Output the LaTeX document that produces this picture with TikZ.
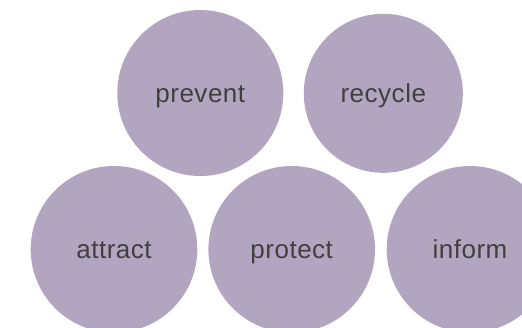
\documentclass[tikz,border=0pt]{standalone}
\usepackage{fontspec}
\setmainfont[LetterSpace=2]{Liberation Sans}
\definecolor{bubble}{HTML}{B1A5BF}
\definecolor{ink}{HTML}{404040}
\tikzset{
  bub/.style={circle, fill=bubble, draw=none, inner sep=0pt, text=ink,
    font=\fontsize{26}{30}\selectfont, text height=19pt, text depth=0pt},
  big/.style={bub, minimum size=166.6pt},
  small/.style={bub, minimum size=159pt}
}
\begin{document}
\begin{tikzpicture}[x=1pt,y=-1pt]
\useasboundingbox (0,0) rectangle (522,327);
\clip (0,0) rectangle (522,327);
\fill[white] (0,0) rectangle (522,327);
\node[bub, minimum size=166pt] (prevent) at (200.3,93) {prevent};
\node[small] (recycle) at (383.3,93.3) {recycle};
\node[big] (attract) at (114,249.3) {attract};
\node[big] (protect) at (291.7,249.3) {protect};
\node[big] (inform) at (470,249.3) {inform};
\end{tikzpicture}
\end{document}
